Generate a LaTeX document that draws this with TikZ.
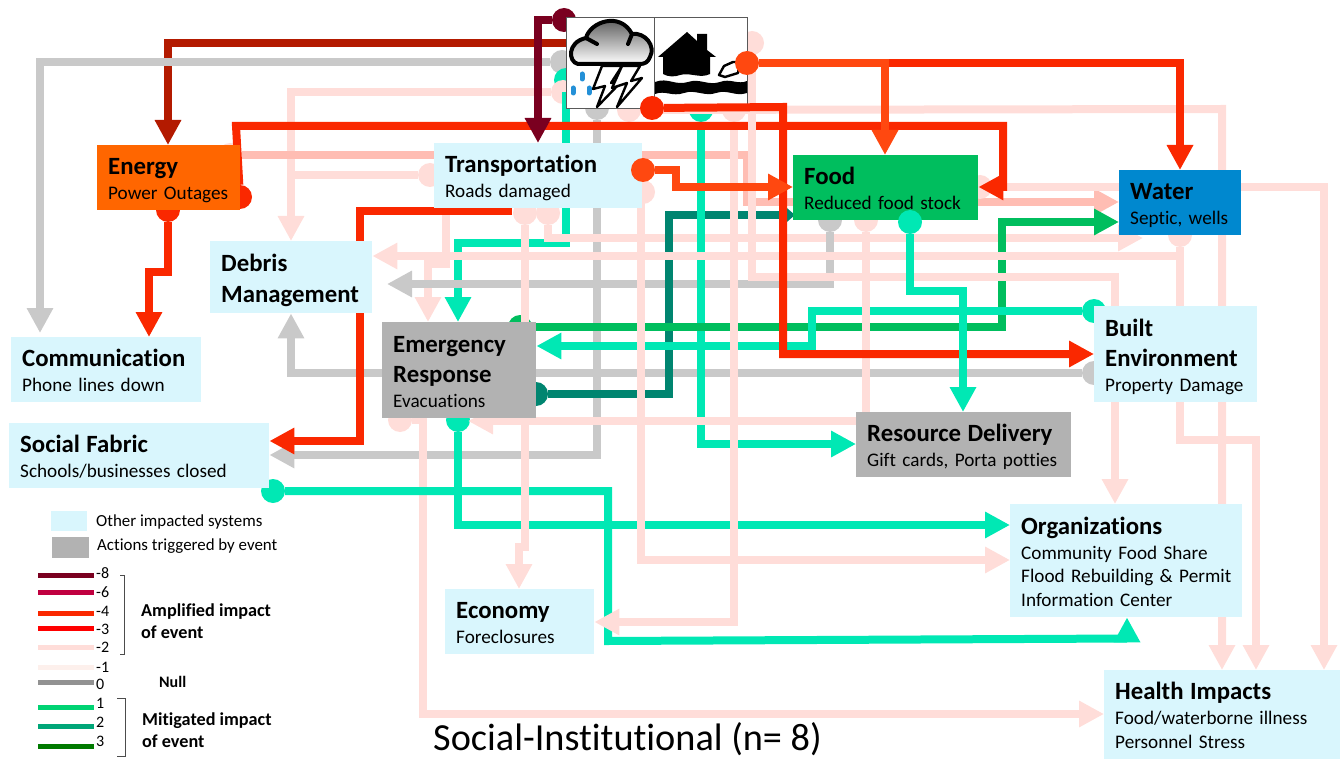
\documentclass[tikz,border=0pt]{standalone}
\usepackage{fontspec}
\setmainfont{Carlito}[Ligatures=NoCommon]
\usetikzlibrary{arrows.meta}
\usetikzlibrary{backgrounds}

\definecolor{sysblue}{HTML}{D9F6FD}
\definecolor{actgray}{HTML}{B2B2B2}
\definecolor{energyorange}{HTML}{FF6600}
\definecolor{foodgreen}{HTML}{00BE5E}
\definecolor{waterblue}{HTML}{0088CF}
\definecolor{lnmaroon}{HTML}{7A0020}
\definecolor{lndarkred}{HTML}{B31A00}
\definecolor{lnred}{HTML}{FA2800}
\definecolor{lnorange}{HTML}{FF4810}
\definecolor{lnpink}{HTML}{FFDDD9}
\definecolor{lnrose}{HTML}{FFBDB3}
\definecolor{lngray}{HTML}{C9C9C9}
\definecolor{lnteal}{HTML}{00E8B4}
\definecolor{lnpine}{HTML}{008570}
\definecolor{lngreen}{HTML}{00BE5E}

\newcommand{\sysname}[1]{{\fontsize{24.8}{24}\selectfont\bfseries #1}}

\begin{document}
\begin{tikzpicture}[
  x=1pt, y=-1pt,
  sysbox/.style 2 args={rectangle, fill=sysblue, anchor=north west, align=left,
    text width=#1pt-22pt, minimum height=#2pt, inner xsep=11pt, inner ysep=0pt,
    font=\fontsize{19.2}{23.5}\selectfont,
    execute at begin node={\rule{0pt}{25pt}}, execute at end node={\rule[-6pt]{0pt}{6pt}}},
  arr/.style={line width=8pt, -{Triangle[length=25pt,width=25pt]}},
  lane/.style={line width=8pt},
  dotend/.style={circle, minimum size=24pt, inner sep=0pt},
  iconbox/.style={rectangle, draw=black!65, line width=1.2pt, fill=white, inner sep=0pt, anchor=north west},
  legtext/.style={anchor=west, inner sep=0pt, font=\fontsize{16.9}{20}\selectfont},
  legnum/.style={anchor=west, inner sep=0pt, font=\fontsize{16}{20}\selectfont},
  legbold/.style={anchor=west, inner sep=0pt, font=\fontsize{18.2}{20}\selectfont\bfseries},
]
\useasboundingbox (0,0) rectangle (1340,759);

% systems
\node (energy) [sysbox={143}{65}, fill=energyorange] at (97,145) {\sysname{Energy}\\[1.5pt]Power Outages};
\node (transp) [sysbox={208}{65}] at (434,143) {\sysname{Transportation}\\[1.5pt]Roads damaged};
\node (food) [sysbox={185}{65}, fill=foodgreen] at (793,155) {\sysname{Food}\\[1.5pt]Reduced food stock};
\node (water) [sysbox={122}{65}, fill=waterblue] at (1119,170) {\sysname{Water}\\[1.5pt]Septic, wells};
\node (debris) [sysbox={162}{72}] at (210,241) {\sysname{Debris}\\[7.5pt]\sysname{Management}};
\node (comm) [sysbox={190}{65}] at (11,337) {\sysname{Communication}\\[1.5pt]Phone lines down};
\node (emerg) [sysbox={154}{96}, fill=actgray] at (382,322) {\sysname{Emergency}\\[6.5pt]\sysname{Response}\\[1.5pt]Evacuations};
\node (social) [sysbox={260}{65}] at (9,423) {\sysname{Social Fabric}\\[1.5pt]Schools/businesses closed};
\node (built) [sysbox={163}{96}] at (1094,306) {\sysname{Built}\\[6.5pt]\sysname{Environment}\\[1.5pt]Property Damage};
\node (resource) [sysbox={215}{65}, fill=actgray] at (856,412) {\sysname{Resource Delivery}\\[1.5pt]Gift cards, Porta potties};
\node (org) [sysbox={232}{113}] at (1010,504) {\sysname{Organizations}\\[1.5pt]Community Food Share\\\mbox{Flood Rebuilding \& Permit}\\Information Center};
\node (economy) [sysbox={149}{65}] at (445,589) {\sysname{Economy}\\[1.5pt]Foreclosures};
\node (health) [sysbox={236}{89}] at (1104,670) {\sysname{Health Impacts}\\[1.5pt]Food/waterborne illness\\Personnel Stress};

% event icons
\node (storm) [iconbox, minimum width=88pt, minimum height=91pt] at (566,17) {};
\node (flood) [iconbox, minimum width=93pt, minimum height=91pt] at (654,17) {};

\draw[line width=4pt, top color=black!75, bottom color=white, shading angle=0, line join=round]
  (578,64) .. controls (568,62) and (567,42) .. (586,38)
  .. controls (590,22) and (620,11) .. (632,34)
  .. controls (645,32) and (656,46) .. (650,57)
  .. controls (648,62) and (645,64) .. (640,64) -- cycle;
\draw[line width=4pt, line cap=round] (586,38) -- (597,44) (632,34) -- (628,44);
\draw[line width=2.4pt, fill=white, line join=round]
  (602,66) -- (593,89) -- (605,86) -- (597,107) -- (623,80) -- (611,83) -- (622,66) -- cycle;
\draw[line width=2.4pt, fill=white, line join=round]
  (622,66) -- (612,88) -- (627,83) -- (617,107) -- (642,78) -- (631,81) -- (640,66) -- cycle;
\draw[line width=5pt, line cap=round, color=cyan!70!blue!90] (582,74) -- (582,79) (573,88) -- (573,93) (589,88) -- (589,93);

\fill (687,32) -- (697,41) -- (697,34) -- (707,34) -- (707,50) -- (716,57) -- (710,57) -- (710,74)
  .. controls (700,79) and (690,72) .. (680,75) .. controls (675,77) and (668,77) .. (663,74) -- (663,57) -- (658,57) -- cycle;
\fill (655,82) .. controls (668,77) and (675,86) .. (688,82) .. controls (700,78) and (708,86) .. (720,82)
  .. controls (730,78) and (738,85) .. (747,81) -- (747,93) .. controls (735,97) and (728,89) .. (716,93)
  .. controls (705,97) and (695,89) .. (684,93) .. controls (672,97) and (665,90) .. (655,94) -- cycle;
\draw[line width=2.4pt, fill=white, line join=round] (719,75) -- (724,66) -- (733,62) -- (740,62) -- (738,73) -- (725,77) -- cycle;

\begin{scope}[on background layer]
  \node (dstormgray) [dotend, fill=lngray] at (562,62) {};
  \node (dstormteal) [dotend, fill=lnteal] at (566,80) {};
  \node (dstormpink) [dotend, fill=lnpink] at (563,92) {};
  \node (dstormsoc) [dotend, fill=lngray] at (597,108) {};
  \node (dfloodhlt) [dotend, fill=lnpink] at (629,110) {};
  \node (dfloodres) [dotend, fill=lnteal] at (701,110) {};

  \draw[arr, lndarkred] (storm.west |- 0,43) -| (168,0 |- energy.north);
  \draw[arr, lngray] (dstormgray) -| (40,333);
  \draw[arr, lnteal] (dstormteal) -- (566,243) -| (458,0 |- emerg.north);
  \draw[arr, lngray] (dstormsoc) |- (social.east |- 0,455);

  \node (dtrwat) [dotend, fill=lnpink] at (548,213) {};
  \coordinate (tipwaterlow) at (1143,238);
  \draw[arr, lnpink] (dtrwat) |- (tipwaterlow);
  \node (demhlt) [dotend, fill=lnpink] at (400,420) {};
  \draw[arr, lnpink] (demhlt) -- (423,420) |- (health.west |- 0,714);
  \draw[arr, lnpink] (446,0 |- transp.south) -- (446,264) -- (428,264) -- (428,0 |- emerg.north);
  \draw[arr, lnpink] (dstormpink) -| (291,0 |- debris.north);
  \node (dtrdeb) [dotend, fill=lnpink] at (430,175) {};
  \draw[lane, lnpink] (dtrdeb) -- (291,175);
  \node (denwat) [dotend, fill=lnpink] at (230,155) {};
  \draw[arr, lnrose] (denwat) -- (747,155) -- (747,202) -- (water.west |- 0,202);

  \node (dfdgray) [dotend, fill=lngray] at (830,220) {};
  \draw[arr, lngray] (dfdgray) |- (387,284);
  \node (dbtgray) [dotend, fill=lngray] at (1094,373) {};
  \draw[arr, lngray] (dbtgray) -| (291,0 |- debris.south);
  \node (demfood) [dotend, fill=lnpine] at (536,394) {};
  \draw[arr, lnpine, -{Triangle[length=12pt,width=20pt]}] (demfood) -| (669,215) -- (795,215);
  \draw[arr, lnteal] (dfloodres) |- (resource.west |- 0,444);
  \node (demwat) [dotend, fill=lngreen] at (520,327) {};
  \draw[arr, lngreen] (demwat) -| (1002,222) -- (water.west |- 0,222);
  \node (dbtem) [dotend, fill=lnteal] at (1094,311) {};
  \draw[arr, lnteal] (dbtem) -| (812,346) -- (emerg.east |- 0,346);
  \node (demorg) [dotend, fill=lnteal] at (458,420) {};
  \draw[arr, lnteal] (demorg) |- (org.west |- 0,525);
  \node (dsoc) [dotend, fill=lnteal] at (273,491) {};
  \draw[arr, lnteal] (dsoc) -| (608,641) -- (1127,638.5) -- (1127,0 |- org.south);
  \draw[arr, lnred] (512,211) -- (360,211) |- (social.east |- 0,441);

  % these run over the lines above
  \node (dwat) [dotend, fill=lnpink] at (1180,235) {};
  \draw[arr, lnpink] (dwat) |- (debris.east |- 0,256);
  \draw[arr, lnpink] (dwat) -- (1180,440) -| (1256,0 |- health.north);
  \node (dfloodeco) [dotend, fill=lnpink] at (734,110) {};
  \draw[arr, lnpink] (dfloodeco) |- (economy.east |- 0,622);
  \node (dtrorg) [dotend, fill=lnpink] at (643,192) {};
  \draw[arr, lnpink] (dtrorg) -- (641,192) |- (org.west |- 0,560);
  \node (dtreco) [dotend, fill=lnpink] at (525,213) {};
  \draw[arr, lnpink] (dtreco) -- (525,547) -- (519,547) -- (519,0 |- economy.north);
  \node (dfdem) [dotend, fill=lnpink] at (866,220) {};
  \draw[arr, lnpink] (dfdem) |- (468,421);
  \draw[arr, lnpink] (dfloodhlt) -- (1222,109) -- (1222,0 |- health.north);
  \node (dfdhlt) [dotend, fill=lnpink] at (980,187) {};
  \draw[arr, lnpink] (dfdhlt) -| (1324,0 |- health.north);

  \node (denfood) [dotend, fill=lnred] at (240,197) {};
  \draw[arr, lnred] (denfood) -- (236,126) -- (1003,126) -- (1003,187) -- (food.east |- 0,187);
  \node (dencomm) [dotend, fill=lnred] at (168,210) {};
  \draw[arr, lnred] (dencomm) -- (168,272) -- (149,272) -- (149,0 |- comm.north);
  \node (dfloodorg) [dotend, fill=lnpink] at (752,43) {};
  \draw[arr, lnpink] (dfloodorg) -- (752,277) -- (1115,277) -- (1115,0 |- org.north);
  \node (dstormtr) [dotend, fill=lnmaroon] at (564,20) {};
  \draw[arr, lnmaroon] (dstormtr) -- (538,20) -- (538,0 |- transp.north);
\end{scope}

% on top of boxes and icons
\node (dfloodbt) [dotend, fill=lnred] at (652,108) {};
\draw[arr, lnred] (dfloodbt) -- (783,107) |- (built.west |- 0,354);
\node (dfloodwat) [dotend, fill=lnorange] at (747,63) {};
\draw[arr, lnred] (dfloodwat) -| (1180,0 |- water.north);
\draw[arr, lnorange] (dfloodwat) -| (885,0 |- food.north);
\node (dtrfood) [dotend, fill=lnorange] at (643,170) {};
\draw[arr, lnorange] (dtrfood) -- (676,170) |- (food.west |- 0,187);
\node (dfdres) [dotend, fill=lnteal] at (910,222) {};
\draw[arr, lnteal] (dfdres) |- (963,291) -- (963,0 |- resource.north);

% legend
\node (keysys) [rectangle, fill=sysblue, anchor=north west, minimum width=36pt, minimum height=20pt, inner sep=0pt] at (51,511) {};
\node (keyact) [rectangle, fill=actgray, anchor=north west, minimum width=37pt, minimum height=21pt, inner sep=0pt] at (52,537) {};
\node (keysystxt) [legtext] at (96,521.5) {Other impacted systems};
\node (keyacttxt) [legtext] at (97,546.5) {Actions triggered by event};

\foreach \ly/\lcol/\ltxt/\ty [count=\i] in {
  575/7A0020/-8/573, 592/C00040/-6/592, 613/FA2800/-4/611, 628/FF0000/-3/629, 647/FFDDD9/-2/647,
  667/FDF0EC/-1/667, 682/929292/0/684, 707/00D373/1/703, 726/00A678/2/722, 746/007A00/3/741} {
  \definecolor{keycol}{HTML}{\lcol}
  \draw[line width=5pt, keycol] (38,\ly) -- (94,\ly);
  \node (keylab\i) [legnum] at (96,\ty) {\ltxt};
}

\draw[black!70, line width=0.7pt] (120,575) -- (124,575) -- (124,654) -- (120,654);
\draw[black!70, line width=0.7pt] (117,698) -- (125,698) -- (125,756) -- (117,756);
\node (keyamp) [legbold] at (141,611.5) {Amplified impact};
\node (keyampb) [legbold] at (141,632) {of event};
\node (keynull) [legbold, font=\fontsize{16}{20}\selectfont\bfseries] at (159,682) {Null};
\node (keymit) [legbold] at (142,720.5) {Mitigated impact};
\node (keymitb) [legbold] at (142,741) {of event};

\node (title) [anchor=west, inner sep=0pt, font=\fontsize{38.3}{42}\selectfont] at (433,739) {Social-Institutional (n= 8)};
\end{tikzpicture}
\end{document}
